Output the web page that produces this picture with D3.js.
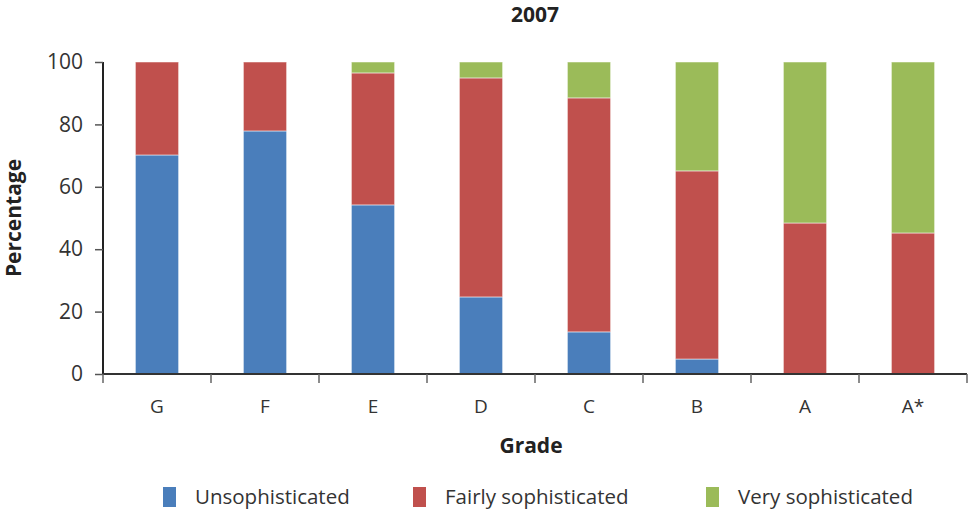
<!DOCTYPE html>
<html><head><meta charset="utf-8">
<script src="https://cdn.jsdelivr.net/npm/d3@7"></script>
<style>body{margin:0;background:#fff}svg{display:block;font-family:"Open Sans",sans-serif}</style>
</head><body><svg id="c" width="971" height="513"></svg>
<script>
const categories = ["G","F","E","D","C","B","A","A*"];
const seriesNames = ["Unsophisticated","Fairly sophisticated","Very sophisticated"];
const unsophisticated = [70.2, 77.9, 54.2, 24.7, 13.5, 4.8, 0, 0];
const fairly = [29.8, 22.1, 42.3, 70.2, 75.0, 60.3, 48.4, 45.2];
const very = [0, 0, 3.5, 5.1, 11.5, 34.9, 51.6, 54.8];
const yTicks = [0,20,40,60,80,100];
const colors = ["#4a7ebb","#c0504d","#9bbb59"];

const svg = d3.select("#c");
const m = {l:103, r:967, t:62, b:374};
const x = d3.scaleBand().domain(categories).range([m.l, m.r]).paddingInner(0.6).paddingOuter(0.3);
const xb = d3.scaleBand().domain(categories).range([m.l, m.r]);
const y = d3.scaleLinear().domain([0,100]).range([m.b, m.t]);

const table = categories.map((c,i)=>({cat:c, s0:unsophisticated[i], s1:fairly[i], s2:very[i]}));
const stack = d3.stack().keys(["s0","s1","s2"])(table);

svg.append("g").selectAll("g").data(stack).join("g")
  .attr("fill",(d,i)=>colors[i])
  .selectAll("rect").data(d=>d).join("rect")
  .attr("x",d=>x(d.data.cat))
  .attr("width",x.bandwidth())
  .attr("y",d=>y(d[1]))
  .attr("height",d=>Math.max(0,y(d[0])-y(d[1])))
  .attr("stroke","rgba(255,255,255,0.5)").attr("stroke-width",1);

// y axis
const ya = svg.append("g").attr("transform",`translate(${m.l},0)`)
  .call(d3.axisLeft(y).tickValues(yTicks).tickSize(8).tickPadding(12));
ya.select(".domain").attr("stroke","#222").attr("stroke-width",2).attr("d",`M0,${m.b}V${m.t}`);
ya.selectAll(".tick line").attr("stroke","#555").attr("stroke-width",1.5);
ya.selectAll("text").attr("font-size",21).attr("fill","#333").attr("font-family","'Open Sans',sans-serif");

// x axis
const xa = svg.append("g").attr("transform",`translate(0,${m.b})`)
  .call(d3.axisBottom(xb).tickSize(0).tickPadding(26));
xa.select(".domain").attr("stroke","#333").attr("stroke-width",2).attr("d",`M${m.l},0H${m.r}`);
xa.selectAll("text").attr("font-size",19).attr("fill","#333").attr("font-family","'Open Sans',sans-serif");
svg.append("g").selectAll("line").data(d3.range(categories.length+1)).join("line")
  .attr("x1",i=>m.l+i*xb.step()).attr("x2",i=>m.l+i*xb.step())
  .attr("y1",m.b).attr("y2",m.b+9).attr("stroke","#666").attr("stroke-width",1.5);

svg.append("text").attr("x",535).attr("y",22).attr("text-anchor","middle")
  .attr("font-size",21).attr("font-weight","bold").attr("fill","#222").text("2007");
svg.append("text").attr("x",531).attr("y",453).attr("text-anchor","middle")
  .attr("font-size",21).attr("font-weight","bold").attr("fill","#222").text("Grade");
svg.append("text").attr("transform","translate(21,218) rotate(-90)").attr("text-anchor","middle")
  .attr("font-size",21).attr("font-weight","bold").attr("fill","#222").text("Percentage");

const legX = [163, 413, 706];
const lg = svg.append("g").selectAll("g").data(seriesNames).join("g")
  .attr("transform",(d,i)=>`translate(${legX[i]},487)`);
lg.append("rect").attr("width",13).attr("height",20).attr("fill",(d,i)=>colors[i]);
lg.append("text").attr("x",32).attr("y",17).attr("font-size",20.5).attr("fill","#333").text(d=>d);
</script></body></html>
